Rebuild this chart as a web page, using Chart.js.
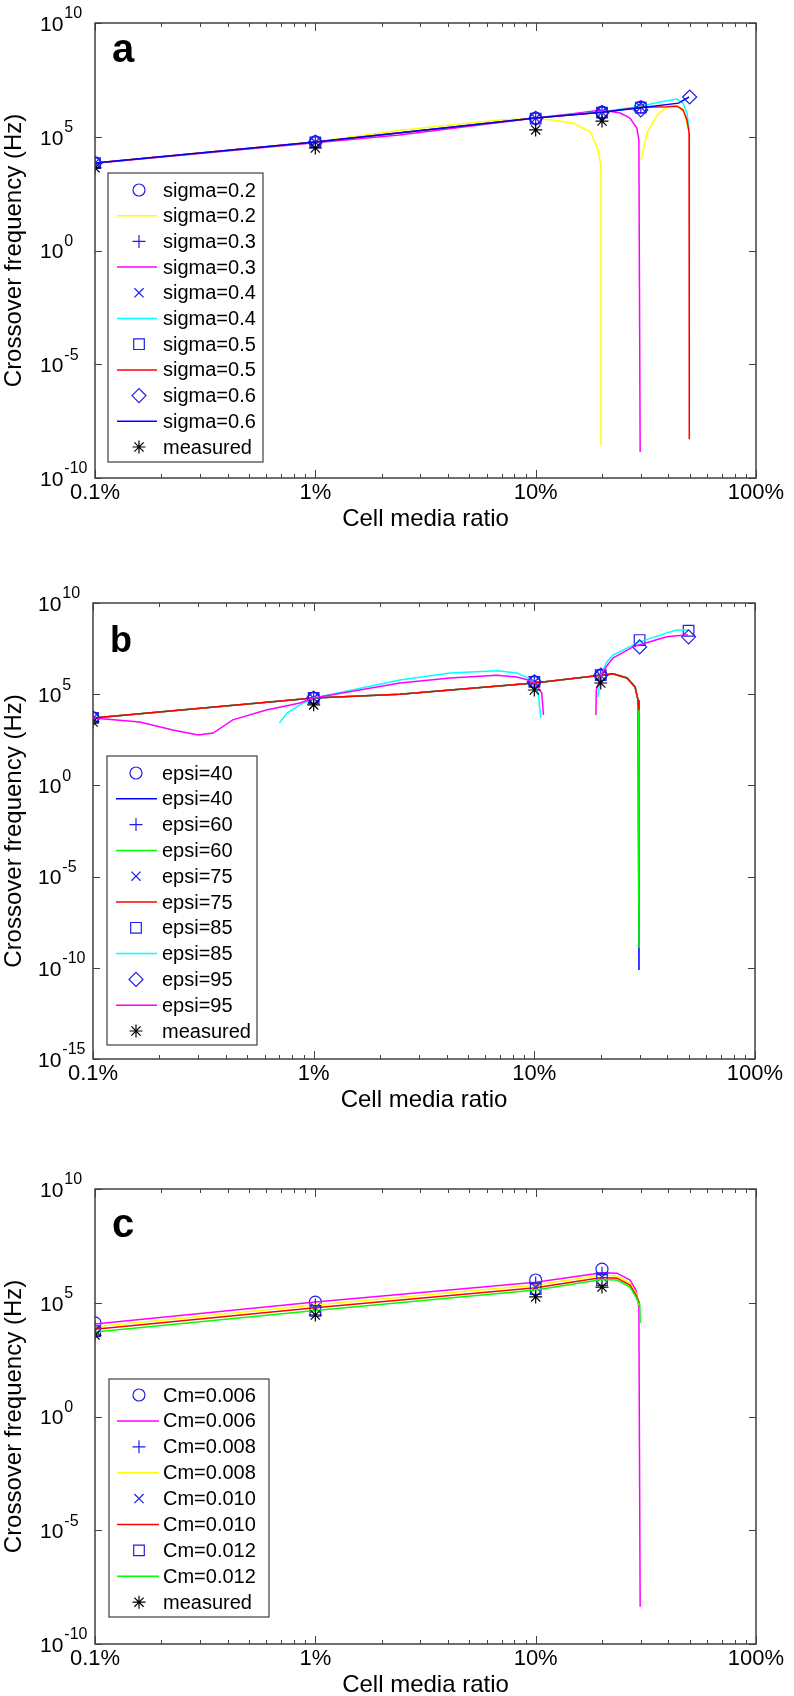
<!DOCTYPE html>
<html lang="en">
<head>
<meta charset="UTF-8">
<title>Crossover frequency vs cell media ratio</title>
<script src="https://cdn.jsdelivr.net/npm/chart.js"></script>
<style>
  html, body { margin: 0; padding: 0; background: #fff; }
  body { width: 794px; height: 1696px; overflow: hidden; position: relative; }
  canvas { position: absolute; left: 0; }
</style>
</head>
<body>
<canvas id="chartA" width="794" height="560" style="top:0px"></canvas>
<canvas id="chartB" width="794" height="560" style="top:580px"></canvas>
<canvas id="chartC" width="794" height="560" style="top:1166px"></canvas>
<script>
// ---- axes ----
const xTickVals = [0.1, 1, 10, 100];
const xTickText = ['0.1%', '1%', '10%', '100%'];
const yTickExpA = [-10, -5, 0, 5, 10];
const yTickExpB = [-15, -10, -5, 0, 5, 10];
const yTickExpC = [-10, -5, 0, 5, 10];

// ---- shared x positions of the points (cell media ratio, %) ----
const ratios4 = [0.1, 1, 10, 20];
const ratios5 = [0.1, 1, 10, 20, 30];
const ratios6 = [0.1, 1, 10, 20, 30, 50];

// ---- panel a : sigma ----
const aMeasured = [4.3e3, 3.2e4, 2.0e5, 4.9e5];
const aSig02Marks = [7.1e3, 5.9e4, 6.6e5, 1.2e6, 2.0e6];
const aSig03Marks = [7.2e3, 6.0e4, 6.8e5, 1.25e6, 2.1e6];
const aSig04Marks = [7.0e3, 5.8e4, 6.5e5, 1.2e6, 2.0e6];
const aSig05Marks = [6.9e3, 5.7e4, 6.3e5, 1.15e6, 1.9e6];
const aSig06Marks = [7.0e3, 5.8e4, 6.4e5, 1.15e6, 1.5e6, 5.6e6];

const aSig02X = [0.1, 1, 2.4, 4.1, 6.9, 9.8, 12, 14.8, 17.7, 19.2, 19.8, 19.8, 25, 30.1, 32, 35.6, 39.5, 42.9, 46.1, 47.6, 48.6];
const aSig02Y = [7.1e3, 6.0e4, 1.9e5, 3.3e5, 5.5e5, 6.5e5, 5.5e5, 3.9e5, 1.66e5, 2.6e4, 4.8e3, 2.8e-9, null, 9.5e3, 1.45e5, 9.1e5, 2.0e6, 2.5e6, 1.8e6, 9.1e5, 3.2e5];
const aSig03X = [0.1, 1, 2.4, 10, 15, 20, 24.2, 26.8, 28.8, 29.4, 29.8];
const aSig03Y = [6.8e3, 5.5e4, 1.2e5, 6.6e5, 1.05e6, 1.5e6, 1.1e6, 6.6e5, 2.4e5, 7.2e4, 1.4e-9];
const aSig04X = [0.1, 1, 10, 20, 30, 36.6, 43.8, 46.7, 48.6, 49.7];
const aSig04Y = [7.1e3, 5.9e4, 6.6e5, 1.25e6, 2.2e6, 3.4e6, 4.6e6, 3.0e6, 1.1e6, 2.0e5];
const aSig05X = [0.1, 1, 10, 20, 30, 39.5, 43.8, 46.7, 48.6, 49.7, 49.8];
const aSig05Y = [7.0e3, 5.9e4, 6.6e5, 1.2e6, 2.0e6, 2.1e6, 2.2e6, 1.5e6, 5.5e5, 1.45e5, 5.1e-9];
const aSig06X = [0.1, 1, 10, 20, 30, 44.5, 49.7];
const aSig06Y = [7.1e3, 5.9e4, 6.6e5, 1.2e6, 1.9e6, 3.0e6, 5.6e6];

// ---- panel b : epsi ----
const bMeasured = [3.0e3, 2.6e4, 1.7e5, 4.1e5];
const bEps40Marks = [5.0e3, 6.2e4, 4.7e5, 1.1e6];
const bEps60Marks = [5.1e3, 6.3e4, 4.8e5, 1.1e6];
const bEps75Marks = [4.9e3, 6.1e4, 4.6e5, 1.05e6];
const bEps85Marks = [5.0e3, 6.2e4, 4.7e5, 1.1e6, 9.3e7, 3.0e8];
const bEps95Marks = [5.0e3, 6.2e4, 4.7e5, 1.1e6, 3.9e7, 1.4e8];

const bEps40X = [0.1, 1, 2.46, 10, 20, 22.7, 26.3, 28.6, 29.5, 29.8, 29.8];
const bEps40Y = [5.0e3, 6.2e4, 1.0e5, 4.1e5, 1.1e6, 1.3e6, 7.8e5, 2.5e5, 4.8e4, 1.35e4, 7.6e-11];
const bEps60X = [0.1, 1, 2.46, 10, 20, 22.7, 26.3, 28.6, 29.5, 29.8, 29.8];
const bEps60Y = [5.0e3, 6.2e4, 1.0e5, 4.1e5, 1.1e6, 1.3e6, 7.8e5, 2.5e5, 4.8e4, 1.35e4, 1.2e-9];
const bEps75X = [0.1, 1, 2.46, 10, 20, 22.7, 26.3, 28.6, 29.5, 29.8];
const bEps75Y = [5.0e3, 6.2e4, 1.0e5, 4.1e5, 1.1e6, 1.3e6, 7.8e5, 2.5e5, 4.8e4, 1.35e4];
const bEps85X = [0.70, 0.757, 0.867, 1, 2.46, 4.15, 6.76, 8.34, 9.35, 10, 10.4, 10.7, 15, 19.4, 20, 21.3, 22.7, 29.8, 39.8, 44.3, 49.7];
const bEps85Y = [2.6e3, 9.3e3, 2.6e4, 6.2e4, 6.0e5, 1.45e6, 1.9e6, 1.45e6, 7.8e5, 4.1e5, 1.2e5, 5.0e3, null, 7.1e4, 1.1e6, 5.9e6, 1.4e7, 7.2e7, 2.3e8, 3.3e8, 3.3e8];
const bEps95X = [0.1, 0.163, 0.23, 0.30, 0.35, 0.43, 0.61, 0.867, 1, 2.46, 4.15, 6.76, 8.34, 9.35, 10, 10.8, 11.0, 15, 19.0, 19.1, 20, 21.3, 22.7, 28.0, 29.8, 39.8, 49.7];
const bEps95Y = [5.0e3, 3.0e3, 1.1e3, 5.8e2, 7.4e2, 3.9e3, 1.35e4, 3.3e4, 6.2e4, 4.1e5, 7.8e5, 1.1e6, 8.7e5, 6.0e5, 4.1e5, 1.2e5, 7.2e3, null, 7.2e3, 1.7e5, 1.1e6, 3.5e6, 9.5e6, 3.9e7, 5.0e7, 1.4e8, 1.8e8];

// ---- panel c : Cm ----
const cMeasured = [3.8e3, 2.9e4, 1.8e5, 4.9e5];
const cCm006Marks = [1.3e4, 1.07e5, 1.0e6, 3.0e6];
const cCm008Marks = [8.5e3, 7.9e4, 7.4e5, 2.0e6];
const cCm010Marks = [6.3e3, 5.9e4, 4.9e5, 1.35e6];
const cCm012Marks = [5.6e3, 4.4e4, 4.0e5, 1.0e6];

const cCm006X = [0.1, 1, 10, 20, 23.4, 26.8, 28.5, 29.4, 29.8];
const cCm006Y = [1.17e4, 1.07e5, 7.9e5, 2.1e6, 2.0e6, 1.0e6, 3.6e5, 6.5e4, 4.3e-9];
const cCm008X = [0.1, 1, 10, 20, 23.4, 26.8, 28.5, 29.4];
const cCm008Y = [8.9e3, 7.9e4, 6.0e5, 1.66e6, 1.5e6, 7.4e5, 2.7e5, 7.9e4];
const cCm010X = [0.1, 1, 10, 20, 23.4, 26.8, 28.5, 29.6];
const cCm010Y = [6.8e3, 6.0e4, 4.6e5, 1.3e6, 1.2e6, 6.0e5, 2.2e5, 9.8e4];
const cCm012X = [0.1, 1, 10, 20, 23.4, 26.8, 28.5, 29.7, 29.8];
const cCm012Y = [5.2e3, 4.6e4, 3.6e5, 1.05e6, 1.0e6, 4.9e5, 1.8e5, 7.9e4, 1.3e4];

// ---- styling ----
const FONT = "'Liberation Sans', Arial, Helvetica, sans-serif";
Chart.defaults.font.family = FONT;
Chart.defaults.color = '#000';

const MARK = '#1f1fe6';
const YELLOW = '#ffff00', MAGENTA = '#ff00ff', CYAN = '#00ffff';
const RED = '#ff0000', BLUE = '#0000ff', GREEN = '#00ff00';

const STYLE_R = { circle: 6, cross: 6.5, crossRot: 6.5, rect: 7.5, rectRot: 7, star: 6.5 };

function pts(xs, ys) { return xs.map((x, i) => ({ x: x, y: ys[i] })); }

function marks(label, xs, ys, style, color) {
  return {
    label: label, kind: 'mark', data: pts(xs, ys), showLine: false,
    pointStyle: style, pointRadius: STYLE_R[style], pointBorderWidth: 1.2,
    pointBorderColor: color || MARK, pointBackgroundColor: 'rgba(0,0,0,0)'
  };
}
function curve(label, xs, ys, color) {
  return {
    label: label, kind: 'line', data: pts(xs, ys), showLine: true, spanGaps: false,
    borderColor: color, borderWidth: 1.5, pointRadius: 0
  };
}

// panel geometry (canvas pixels)
const GEO = {
  chartA: { left: 95, right: 38, top: 23, bottom: 22, yExp: yTickExpA, letter: 'a', letterSize: 40, letterBase: 39,
            legend: { x: 108, y: 173, w: 155, h: 289, row0: 190, step: 25.7, mx: 139, lx1: 117, lx2: 157, tx: 163 } },
  chartB: { left: 93, right: 39, top: 23, bottom: 21, yExp: yTickExpB, letter: 'b', letterSize: 36, letterBase: 49,
            legend: { x: 107, y: 176, w: 150, h: 289, row0: 193, step: 25.8, mx: 136, lx1: 116, lx2: 157, tx: 162 } },
  chartC: { left: 95, right: 38, top: 23, bottom: 22, yExp: yTickExpC, letter: 'c', letterSize: 40, letterBase: 48,
            legend: { x: 109, y: 213, w: 160, h: 238, row0: 229, step: 25.9, mx: 139, lx1: 117, lx2: 159, tx: 163 } }
};

const framePlugin = {
  id: 'matlabFrame',
  afterDraw(chart) {
    const g = GEO[chart.canvas.id];
    const ctx = chart.ctx, ca = chart.chartArea;
    const xs = chart.scales.x, ys = chart.scales.y;
    ctx.save();

    // box + inward ticks
    ctx.strokeStyle = '#404040';
    ctx.lineWidth = 1.5;
    ctx.strokeRect(ca.left, ca.top, ca.right - ca.left, ca.bottom - ca.top);
    ctx.lineWidth = 1;
    ctx.beginPath();
    [0.1, 1, 10].forEach(dec => {
      for (let m = 1; m <= 10; m++) {
        const px = Math.round(xs.getPixelForValue(dec * m)) + 0.5;
        const len = (m === 1 || m === 10) ? 8 : 4;
        ctx.moveTo(px, ca.bottom); ctx.lineTo(px, ca.bottom - len);
        ctx.moveTo(px, ca.top); ctx.lineTo(px, ca.top + len);
      }
    });
    g.yExp.forEach(e => {
      const py = Math.round(ys.getPixelForValue(10 ** e)) + 0.5;
      ctx.moveTo(ca.left, py); ctx.lineTo(ca.left + 7, py);
      ctx.moveTo(ca.right, py); ctx.lineTo(ca.right - 7, py);
    });
    ctx.stroke();

    // y tick labels 10^n
    ctx.fillStyle = '#000';
    ctx.textAlign = 'left';
    ctx.textBaseline = 'middle';
    g.yExp.forEach(e => {
      const py = ys.getPixelForValue(10 ** e);
      const x0 = ca.left - 55;
      ctx.font = '21px ' + FONT;
      ctx.fillText('10', x0, py + 2);
      const w = ctx.measureText('10').width;
      ctx.font = '16px ' + FONT;
      ctx.fillText(String(e), x0 + w + 1, py - 9);
    });

    // panel letter
    ctx.font = 'bold ' + g.letterSize + 'px ' + FONT;
    ctx.textBaseline = 'alphabetic';
    ctx.fillText(g.letter, ca.left + 17, ca.top + g.letterBase);

    // legend
    const L = g.legend;
    ctx.fillStyle = '#fff';
    ctx.fillRect(L.x, L.y, L.w, L.h);
    ctx.strokeStyle = '#404040';
    ctx.lineWidth = 1.2;
    ctx.strokeRect(L.x, L.y, L.w, L.h);
    ctx.font = '20px ' + FONT;
    ctx.textBaseline = 'middle';
    chart.data.datasets.forEach((d, i) => {
      const y = L.row0 + i * L.step;
      if (d.kind === 'line') {
        ctx.strokeStyle = d.borderColor;
        ctx.lineWidth = 1.5;
        ctx.beginPath(); ctx.moveTo(L.lx1, y); ctx.lineTo(L.lx2, y); ctx.stroke();
      } else {
        ctx.strokeStyle = d.pointBorderColor;
        ctx.fillStyle = 'rgba(0,0,0,0)';
        ctx.lineWidth = d.pointBorderWidth;
        Chart.helpers.drawPoint(ctx, { pointStyle: d.pointStyle, radius: d.pointRadius, rotation: 0, borderWidth: d.pointBorderWidth }, L.mx, y);
      }
      ctx.fillStyle = '#000';
      ctx.fillText(d.label, L.tx, y + 1);
    });
    ctx.restore();
  }
};

function buildChart(id, datasets) {
  const g = GEO[id];
  datasets.forEach((d, i) => { d.order = -i; });
  return new Chart(document.getElementById(id), {
    type: 'scatter',
    data: { datasets: datasets },
    options: {
      responsive: false,
      animation: false,
      events: [],
      devicePixelRatio: 1,
      layout: { padding: { top: g.top, right: g.right, bottom: g.bottom, left: 0 } },
      scales: {
        x: {
          type: 'logarithmic', position: 'bottom', min: 0.1, max: 100,
          afterBuildTicks: s => { s.ticks = xTickVals.map(v => ({ value: v })); },
          afterFit: s => { s.height = 60; },
          grid: { display: false, drawTicks: false },
          border: { display: false },
          ticks: {
            autoSkip: false, maxRotation: 0, padding: 2, color: '#000', font: { size: 22 },
            callback: v => xTickText[xTickVals.indexOf(v)]
          },
          title: { display: true, text: 'Cell media ratio', color: '#000', font: { size: 24 }, padding: { top: 0, bottom: 4 } }
        },
        y: {
          type: 'logarithmic', position: 'left',
          min: 10 ** g.yExp[0], max: 10 ** g.yExp[g.yExp.length - 1],
          afterBuildTicks: s => { s.ticks = g.yExp.map(e => ({ value: 10 ** e })); },
          afterFit: s => { s.width = g.left; },
          grid: { display: false, drawTicks: false },
          border: { display: false },
          ticks: { display: false },
          title: { display: true, text: 'Crossover frequency (Hz)', color: '#000', font: { size: 24 }, padding: { top: 0, bottom: 0 } }
        }
      },
      plugins: { legend: { display: false }, tooltip: { enabled: false } }
    },
    plugins: [framePlugin]
  });
}

buildChart('chartA', [
  marks('sigma=0.2', ratios5, aSig02Marks, 'circle'),
  curve('sigma=0.2', aSig02X, aSig02Y, YELLOW),
  marks('sigma=0.3', ratios5, aSig03Marks, 'cross'),
  curve('sigma=0.3', aSig03X, aSig03Y, MAGENTA),
  marks('sigma=0.4', ratios5, aSig04Marks, 'crossRot'),
  curve('sigma=0.4', aSig04X, aSig04Y, CYAN),
  marks('sigma=0.5', ratios5, aSig05Marks, 'rect'),
  curve('sigma=0.5', aSig05X, aSig05Y, RED),
  marks('sigma=0.6', ratios6, aSig06Marks, 'rectRot'),
  curve('sigma=0.6', aSig06X, aSig06Y, BLUE),
  marks('measured', ratios4, aMeasured, 'star', '#000')
]);

buildChart('chartB', [
  marks('epsi=40', ratios4, bEps40Marks, 'circle'),
  curve('epsi=40', bEps40X, bEps40Y, BLUE),
  marks('epsi=60', ratios4, bEps60Marks, 'cross'),
  curve('epsi=60', bEps60X, bEps60Y, GREEN),
  marks('epsi=75', ratios4, bEps75Marks, 'crossRot'),
  curve('epsi=75', bEps75X, bEps75Y, RED),
  marks('epsi=85', ratios6, bEps85Marks, 'rect'),
  curve('epsi=85', bEps85X, bEps85Y, CYAN),
  marks('epsi=95', ratios6, bEps95Marks, 'rectRot'),
  curve('epsi=95', bEps95X, bEps95Y, MAGENTA),
  marks('measured', ratios4, bMeasured, 'star', '#000')
]);

buildChart('chartC', [
  marks('Cm=0.006', ratios4, cCm006Marks, 'circle'),
  curve('Cm=0.006', cCm006X, cCm006Y, MAGENTA),
  marks('Cm=0.008', ratios4, cCm008Marks, 'cross'),
  curve('Cm=0.008', cCm008X, cCm008Y, YELLOW),
  marks('Cm=0.010', ratios4, cCm010Marks, 'crossRot'),
  curve('Cm=0.010', cCm010X, cCm010Y, RED),
  marks('Cm=0.012', ratios4, cCm012Marks, 'rect'),
  curve('Cm=0.012', cCm012X, cCm012Y, GREEN),
  marks('measured', ratios4, cMeasured, 'star', '#000')
]);
</script>
</body>
</html>
